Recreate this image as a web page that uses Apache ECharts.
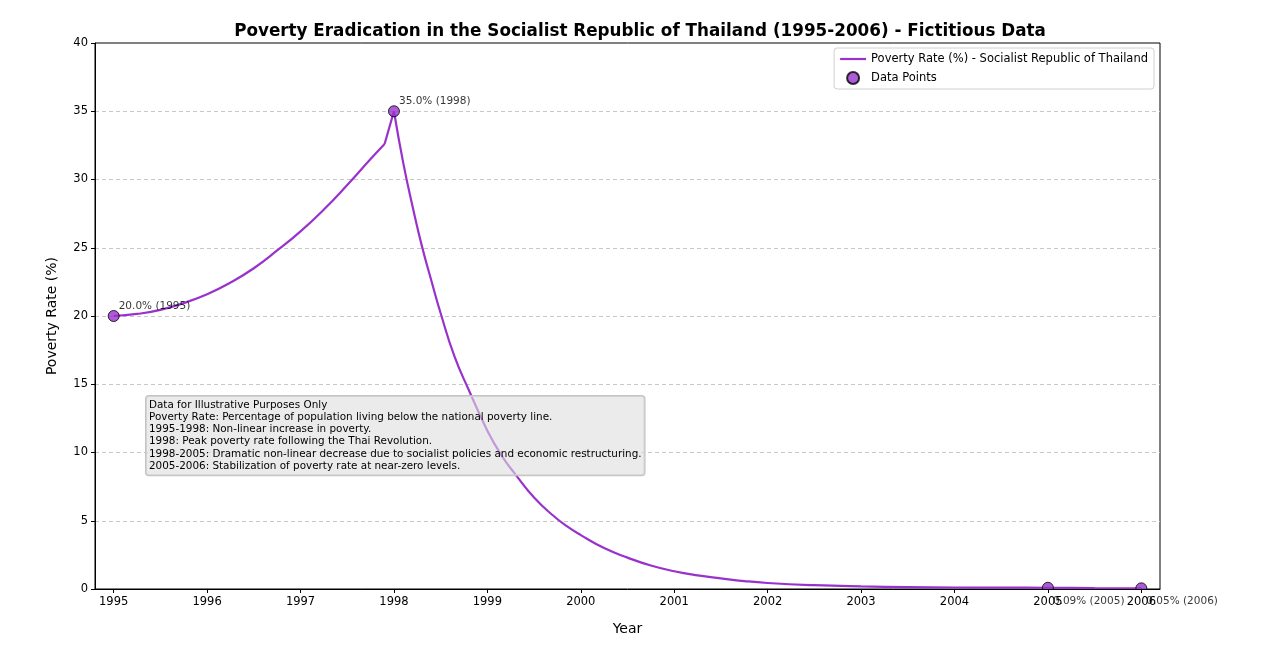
<!DOCTYPE html>
<html>
<head>
<meta charset="utf-8">
<script src="https://cdn.jsdelivr.net/npm/echarts@6/dist/echarts.min.js"></script>
<style>
html,body{margin:0;padding:0;background:#fff;}
#chart{width:1280px;height:668px;}
</style>
</head>
<body>
<div id="chart"></div>
<script>
// Curve: rising part (1995 - 1997.9)
const riseYears = [1995, 1995.25, 1995.5, 1995.75, 1996, 1996.25, 1996.5, 1996.75, 1997, 1997.25, 1997.5, 1997.75, 1997.9];
const riseRates = [20.0, 20.15, 20.45, 20.95, 21.6, 22.45, 23.5, 24.8, 26.2, 27.8, 29.6, 31.5, 32.6];
// jump to the peak (1997.9 - 1998)
const jumpYears = [1997.9, 1998];
const jumpRates = [32.6, 35.0];
// decline (1998 - 2006)
const fallYears = [1998, 1998.1, 1998.2, 1998.3, 1998.4, 1998.5, 1998.65, 1998.8, 1999, 1999.15, 1999.3, 1999.5, 1999.7, 1999.85, 2000,
  2000.25, 2000.5, 2000.75, 2001, 2001.25, 2001.5, 2001.75, 2002, 2002.5, 2003, 2003.5, 2004, 2004.5, 2005, 2005.5, 2006];
const fallRates = [35.0, 31.2, 28.0, 25.1, 22.6, 20.2, 17.0, 14.6, 11.6, 9.8, 8.4, 6.7, 5.4, 4.6, 3.95,
  3.0, 2.3, 1.72, 1.3, 1.0, 0.78, 0.58, 0.44, 0.28, 0.19, 0.14, 0.11, 0.1, 0.09, 0.07, 0.05];

// Highlighted data points
const pointYears = [1995, 1998, 2005, 2006];
const pointValues = [20.0, 35.0, 0.09, 0.05];
const pointLabels = ['20.0% (1995)', '35.0% (1998)', '0.09% (2005)', '0.05% (2006)'];

// Tick labels
const xTicks = [1995, 1996, 1997, 1998, 1999, 2000, 2001, 2002, 2003, 2004, 2005, 2006];
const yTicks = [0, 5, 10, 15, 20, 25, 30, 35, 40];

const noteLines = [
  'Data for Illustrative Purposes Only',
  'Poverty Rate: Percentage of population living below the national poverty line.',
  '1995-1998: Non-linear increase in poverty.',
  '1998: Peak poverty rate following the Thai Revolution.',
  '1998-2005: Dramatic non-linear decrease due to socialist policies and economic restructuring.',
  '2005-2006: Stabilization of poverty rate at near-zero levels.'
];

const FONT = "'DejaVu Sans', sans-serif";
const COLOR = '#9932CC';
const LINE_NAME = 'Poverty Rate (%) - Socialist Republic of Thailand';

const chart = echarts.init(document.getElementById('chart'), null, {renderer: 'canvas'});

const toPairs = (xs, ys) => xs.map((x, i) => [x, ys[i]]);
const pointData = pointYears.map((y, i) => {
  const above = i < 2;
  return {
    value: [y, pointValues[i]],
    label: {
      show: true,
      formatter: pointLabels[i],
      position: above ? [11, -4] : [11, 19],
      align: 'left',
      verticalAlign: 'middle',
      fontSize: 10.5,
      fontFamily: FONT,
      color: '#000'
    }
  };
});

const lineCommon = {
  name: LINE_NAME,
  type: 'line',
  symbol: 'none',
  lineStyle: {color: COLOR, width: 2.2},
  itemStyle: {color: COLOR},
  z: 3
};

chart.setOption({
  animation: false,
  backgroundColor: '#fff',
  textStyle: {fontFamily: FONT},
  title: {
    text: 'Poverty Eradication in the Socialist Republic of Thailand (1995-2006) - Fictitious Data',
    left: 'center',
    top: 18,
    textStyle: {fontSize: 16.8, fontWeight: 'bold', color: '#000', fontFamily: FONT}
  },
  grid: {
    left: 95, right: 120, top: 43, bottom: 79,
    show: true, borderColor: '#000', borderWidth: 1, backgroundColor: 'transparent'
  },
  legend: {
    orient: 'vertical',
    right: 126,
    top: 48,
    padding: [5, 6, 4, 6],
    itemGap: 6,
    itemWidth: 26,
    itemHeight: 12,
    borderColor: '#d0d0d0',
    borderWidth: 1,
    borderRadius: 3,
    backgroundColor: '#fff',
    textStyle: {fontSize: 11.5, fontFamily: FONT, color: '#000'},
    data: [
      {name: LINE_NAME, icon: 'path://M0,0 L26,0 L26,2.2 L0,2.2 Z'},
      {name: 'Data Points', icon: 'circle'}
    ]
  },
  xAxis: {
    type: 'value',
    min: 1994.8,
    max: 2006.2,
    z: 10,
    name: 'Year',
    nameLocation: 'middle',
    nameGap: 33,
    nameTextStyle: {fontSize: 14, fontFamily: FONT, color: '#000'},
    axisLine: {show: true, onZero: false, lineStyle: {color: '#000', width: 1}},
    axisTick: {show: true, length: 4, customValues: xTicks, lineStyle: {color: '#000'}},
    axisLabel: {customValues: xTicks, fontSize: 11.5, fontFamily: FONT, color: '#000', margin: 7,
      formatter: v => String(v)},
    splitLine: {show: false}
  },
  yAxis: {
    type: 'value',
    min: 0,
    max: 40,
    interval: 5,
    name: 'Poverty Rate (%)',
    nameLocation: 'middle',
    nameGap: 36,
    nameTextStyle: {fontSize: 14, fontFamily: FONT, color: '#000'},
    axisLine: {show: true, lineStyle: {color: '#000', width: 1}},
    axisTick: {show: true, length: 4, lineStyle: {color: '#000'}},
    axisLabel: {fontSize: 11.5, fontFamily: FONT, color: '#000', margin: 7},
    splitLine: {show: true, showMinLine: false, showMaxLine: false,
      lineStyle: {color: '#c8c8c8', type: [4, 3], width: 1}}
  },
  series: [
    Object.assign({}, lineCommon, {data: toPairs(riseYears, riseRates), smooth: 0.5}),
    Object.assign({}, lineCommon, {data: toPairs(jumpYears, jumpRates), smooth: false}),
    Object.assign({}, lineCommon, {data: toPairs(fallYears, fallRates), smooth: 0.5}),
    {
      name: 'Data Points',
      type: 'scatter',
      data: pointData,
      symbol: 'circle',
      symbolSize: 11,
      itemStyle: {color: COLOR, borderColor: '#000', borderWidth: 1},
      z: 4
    }
  ],
  graphic: [
    {
      // hides the part of markers falling below the plot area (clipping)
      type: 'rect',
      z: 5,
      shape: {x: 96, y: 589.5, width: 1063, height: 6.5},
      style: {fill: '#fff'},
      silent: true
    },
    {
      type: 'text',
      left: 145,
      top: 395,
      z: 10,
      style: {
        text: noteLines.join('\n'),
        font: "10.4px 'DejaVu Sans', sans-serif",
        fill: '#000',
        lineHeight: 12.2,
        backgroundColor: 'rgba(222,222,222,0.6)',
        borderColor: 'rgba(190,190,190,0.9)',
        borderWidth: 1,
        borderRadius: 3,
        padding: [3, 3, 3, 3]
      }
    }
  ]
});
</script>
</body>
</html>
